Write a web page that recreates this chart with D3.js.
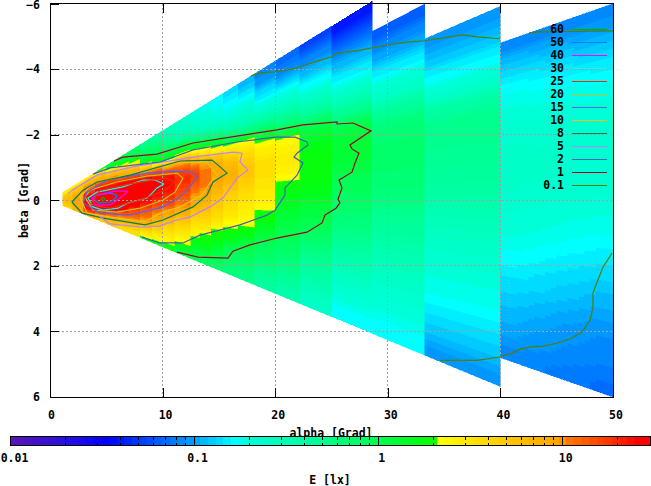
<!DOCTYPE html>
<html><head><meta charset="utf-8">
<script src="https://cdnjs.cloudflare.com/ajax/libs/d3/7.8.5/d3.min.js"></script>
<style>
html,body{margin:0;padding:0;background:#fff}
svg{display:block}
text{font-family:"DejaVu Sans Mono",monospace;font-weight:bold;font-size:11.5px;fill:#000}
</style></head><body><svg id="c" width="651" height="486"></svg>
<script>
// column edges in alpha [Grad]
const tipEdges = [1.15,2,3,4,5,6,7,8];
const midEdges = [8,9.09,10,11.1,12.5,13.3,14.3,15.4,16.7,18.2,20,22.2,25,28.6];
const farEdges = [28.6,33.3,40];
const endEdges = [40,42.5,45,47.5,50];
// beta/alpha limits of each group of columns
const tipMidTop = -0.2125, tipMidBottom = 0.142;
const farTop = [-0.18,-0.148];
const farBottom = [0.142,0.142];
const endTop = -0.12, endBottom = 0.12;
// E [lx] per column, rows top to bottom
const tipE = [
[2.6,2.8,3,3.5,4.5,5.2,5.8,6,6.2,6.2,6,5.8,5.5,5,4.5,4],
[2.5,3.5,5,5.5,6,6.8,8,8.7,9.3,9.5,9.5,9.3,8.8,8.4,7.8,7],
[3,5,6.5,9.5,10.5,14,17.5,24,30,33,33,32,26,20,14,7.5],
[2,5,6.5,8.5,15,21,26,37,55,60,48,42,30,15,10,4.5],
[1.1,2,4.5,7.5,15,20,27,40,50,48,44,35,20,11,8,5],
[1,1.5,3.5,6,10,21,29,40,45,38,31,27,14,9.5,6,4],
[.8,1.1,2,5,8.5,20,30,36,37,33,27,17,13,9,5,3.5]];
const midE = [
[.5,.6,.8,1,1.4,2.2,5,9,17,30,34,35,34,31,24,21,15,13,11,9,6.5,4.5,3,2],
[.4,.5,.65,.85,1,1.5,2.2,9,18,22,30,31,26,23,20,15,12,10,8,6,4.6,3.3,2.5,2],
[.3,.35,.45,.6,.85,1.3,2,6.5,14,22,24,25,24,20,17.5,14,10,8.3,6,4.6,3.5,3,2.4,1.9],
[.25,.28,.32,.4,.9,1.3,3.2,8,12,16,20,19,16,14.5,12,10,8,6,4.5,3.5,2.9,2.3,1.8,1.1],
[.2,.22,.26,.35,.55,1.2,2.3,5.5,10,14,16.5,15,12,10,8.5,7.5,5,4,3.2,2.7,2,1.5,1.2,1],
[.18,.2,.23,.28,.45,.95,2,3.5,8,10,11.5,11,10.5,9,7.5,6,4.7,3.8,3,2.1,1.9,1.5,1.1,.9],
[.16,.18,.2,.24,.35,.7,1.4,2.7,5.5,7.5,9,9.5,7.5,6.5,5,4.5,3.8,3,2,1.9,1.5,1.2,.95,.8],
[.14,.16,.18,.21,.28,.5,.95,2.4,4,5.8,7.3,7.6,6,4.7,4,3.5,3,2.2,1.9,1.6,1.05,.9,.75,.65],
[.11,.14,.18,.22,.28,.38,.8,2.4,3.3,4.5,5,5,4.4,3.7,3.2,2.8,2.4,2.1,1.6,1.2,.95,.8,.65,.55],
[.085,.1,.14,.17,.24,.38,.7,1.5,2.6,3.1,3.6,3.6,3.2,3,2.7,2.1,1.8,1.4,1.1,.9,.75,.62,.5,.42],
[.07,.085,.12,.17,.24,.35,.55,1.02,2.4,2.7,2.9,2.6,2.05,1.7,1.5,1.3,1.15,1.02,.9,.75,.62,.52,.43,.36],
[.055,.08,.105,.145,.19,.27,.42,.85,1.25,1.6,1.8,1.85,1.8,1.6,1.35,1.15,1,.8,.65,.52,.42,.35,.3,.25],
[.04,.055,.085,.115,.15,.21,.31,.5,1,1.25,1.25,1.2,1,.9,.8,.7,.6,.5,.4,.33,.27,.22,.19,.16]];
const farE = [
[.065,.085,.11,.15,.2,.26,.42,.62,.7,.75,.75,.72,.66,.58,.5,.44,.38,.33,.28,.25,.22,.2,.18,.165],
[.09,.115,.14,.18,.23,.36,.5,.52,.5,.47,.43,.39,.35,.31,.27,.24,.22,.2,.185,.17,.15,.13,.115,.095]];
const endE = [
[.085,.115,.14,.165,.185,.2,.22,.23,.24,.24,.24,.23,.215,.205,.195,.18,.165,.15,.135,.125,.115,.105,.095,.085],
[.085,.11,.135,.16,.18,.195,.215,.225,.235,.235,.235,.225,.21,.2,.185,.17,.155,.14,.13,.115,.105,.095,.09,.082],
[.085,.105,.13,.155,.175,.19,.21,.22,.23,.23,.23,.22,.205,.19,.175,.16,.145,.132,.12,.105,.095,.09,.085,.078],
[.085,.1,.125,.15,.17,.185,.205,.215,.225,.225,.225,.215,.2,.185,.17,.152,.138,.125,.11,.098,.09,.085,.08,.072]];
// palette stops: log10(E), colour
const stopLog = [-2,-1.7,-1.47,-1,-.78,-.7,-.3,0,.2,.33,.336,.7,1,1.003,1.3,1.4,1.48];
const stopColor = ["#5a14b4","#2810e0","#0000ff","#00a0ff","#00ffff","#00ffd8","#00ff90","#00ff50","#00ff18","#10ff00","#ffff00","#ffc800","#ffa000","#ff8000","#ff2800","#ff0000","#ff0000"];
// contours [alpha,beta]
const c60 = [[4.71,-.1],[4.88,-.04],[4.71,.02],[4.53,-.04],[4.71,-.1]];
const c50 = [[5.95,-.16],[5.33,-.22],[4.17,-.16],[3.82,-.07],[4.26,.08],[5.33,.05],[5.86,-.07],[5.95,-.16]];
const c40 = [[6.93,-.28],[5.77,-.28],[4.17,-.16],[3.73,-.07],[4,.14],[5.33,.14],[6.22,-.07],[6.93,-.28]];
const c30 = [[10.12,-.5],[9.33,-.62],[8.26,-.62],[6.48,-.41],[4.17,-.25],[3.37,-.07],[3.82,.2],[4.71,.3],[6.04,.24],[6.93,.08],[8.61,-.07],[9.06,-.22],[9.5,-.38],[10.12,-.5]];
const c25 = [[3.55,.14],[4.44,-.31],[7.1,-.5],[10.21,-.68],[11.1,-.56],[10.21,-.31],[7.99,-.01],[5.33,.24],[3.55,.14]];
const c20 = [[3.55,-.31],[5.95,-.56],[8.61,-.74],[11.28,-.83],[11.81,-.68],[11.1,-.25],[10.04,-.01],[7.99,.24],[5.95,.36],[3.82,.3],[3.11,-.1],[3.55,-.31]];
const c15 = [[3.29,-.25],[5.06,-.62],[8.61,-.83],[10.92,-.89],[12.7,-.86],[13.06,-.71],[12.43,-.41],[11.55,-.1],[10.04,.2],[7.1,.45],[4.44,.39],[2.93,.08],[3.29,-.25]];
const c10 = [[2.66,-.1],[3.82,-.53],[5.6,-.68],[8.61,-.93],[10.92,-1.14],[13.94,-1.17],[14.83,-.77],[14.21,-.53],[13.5,-.16],[11.55,.2],[9.77,.39],[8.44,.66],[5.33,.51],[3.29,.39],[2.66,-.1]];
const c8 = [[1.95,.05],[2.93,-.31],[4.17,-.56],[7.1,-.77],[11.55,-1.2],[14.39,-1.23],[15.1,-1.02],[15.72,-.83],[14.48,-.56],[13.94,-.16],[12.7,.2],[10.04,.6],[8.44,.75],[4.71,.54],[2.84,.39],[1.95,.05]];
const c5 = [[1.6,-.19],[1.95,-.31],[4.17,-.77],[7.37,-1.02],[12.7,-1.32],[16.25,-1.47],[17.05,-1.44],[16.87,-1.17],[17.58,-.93],[16.61,-.68],[15.36,-.07],[14.21,.2],[12.43,.51],[11.28,.6],[9.77,.78],[8.26,.82],[5.33,.72],[4.44,.51]];
const c2 = [[3.82,-.8],[5.33,-.99],[9.77,-1.17],[12.7,-1.54],[16.61,-1.78],[19.98,-1.93],[21.76,-1.93],[22.82,-1.78],[22.91,-1.69],[21.94,-1.44],[21.67,-1.32],[22.47,-1.14],[21.94,-.77],[20.87,-.38],[20.87,-.16],[19.98,.3],[19.27,.45],[16.87,.75],[13.32,1.06],[11.81,1.3],[9.77,1.3],[8.17,1.12]];
const c1 = [[5.68,-1.2],[6.48,-1.32],[9.5,-1.41],[12.7,-1.75],[17.14,-1.99],[20.16,-2.15],[22.47,-2.3],[25.49,-2.39],[25.49,-2.33],[26.91,-2.36],[28.51,-2.12],[26.64,-1.69],[26.82,-1.57],[27.44,-1.44],[27.09,-1.14],[26.82,-.86],[25.67,-.62],[25.93,-.38],[25.58,-.04],[25.75,.08],[25.4,.24],[24.42,.45],[24.16,.69],[22.82,.97],[20.16,1.15],[17.76,1.36],[16.25,1.55],[15.81,1.76],[13.14,1.73],[11.28,1.58]];
const c01Top = [[17.85,-3.8],[18.65,-3.89],[19.98,-3.92],[21.58,-4.01],[22.38,-4.1],[23.71,-4.25],[25.04,-4.38],[25.58,-4.5],[27.26,-4.56],[28.6,-4.65],[29.93,-4.74],[31.7,-4.83],[33.3,-4.87],[35.52,-4.99],[36.68,-5.05],[37.92,-4.99],[39.96,-4.93]];
const c01Right = [[42.54,-5.11],[43.43,-5.14],[50,-5.17]];
const c01Bottom = [[34.64,4.88],[37.92,4.88],[39.96,4.78],[41.03,4.66],[41.74,4.54],[42.63,4.48],[43.78,4.45],[45.03,4.36],[46.18,4.23],[47.25,4.02],[47.96,3.65],[48.22,3.29],[48.22,2.83],[48.76,2.34],[49.11,2.04],[49.91,1.61]];
// legend
const legendLabels = ["60","50","40","30","25","20","15","10","8","5","2","1","0.1"];
const legendColors = ["#00b000","#0080ff","#ff00ff","#00ffff","#f03000","#c0c020","#6060e8","#f0c020","#008050","#c080ff","#4060b8","#a00028","#508000"];
const contourSets = [[c60],[c50],[c40],[c30],[c25],[c20],[c15],[c10],[c8],[c5],[c2],[c1],[c01Top,c01Right,c01Bottom]];
// axes
const xTicks = [0,10,20,30,40,50];
const yTicks = [-6,-4,-2,0,2,4,6];
const cbMajor = [0.01,0.1,1,10];
const cbMinor = [.02,.03,.04,.05,.06,.07,.08,.09,.2,.3,.4,.5,.6,.7,.8,.9,2,3,4,5,6,7,8,9,20];
const cbMax = 30, cbSteps = 84, shadesPerRow = 4, shadesPerEndColumn = 5;

const svg = d3.select("#c");
const x = d3.scaleLinear().domain([0,50]).range([50,613]);
const y = d3.scaleLinear().domain([-6,6]).range([3.7,397]);
const pal = d3.scaleLinear().domain(stopLog).range(stopColor).interpolate(d3.interpolateRgb).clamp(true);
const logMin = -2, logMax = Math.log10(cbMax);
const quant = l => {
  const t = (l-logMin)/(logMax-logMin);
  const k = Math.min(cbSteps-1,Math.floor(t*cbSteps));
  return pal(logMin+(k+.5)/cbSteps*(logMax-logMin));
};
const heat = svg.append("g").attr("shape-rendering","crispEdges");
function drawColumn(a0,a1,rTop,rBot,vals){
  const n = vals.length, logs = vals.map(Math.log10);
  const strips = n*shadesPerRow;
  d3.range(strips).forEach(s=>{
    const r0 = rTop+(rBot-rTop)*s/strips, r1 = rTop+(rBot-rTop)*(s+1)/strips;
    const u = Math.max(0,Math.min(n-1,(s+.5)/shadesPerRow-.5)), i = Math.min(n-2,Math.floor(u));
    const c = quant(logs[i]+(logs[i+1]-logs[i])*(u-i));
    heat.append("polygon")
      .attr("points",[[a0,a0*r0],[a1,a1*r0],[a1,a1*r1],[a0,a0*r1]].map(p=>[x(p[0]),y(p[1])].join(",")).join(" "))
      .attr("fill",c).attr("stroke",c).attr("stroke-width",.5);
  });
}
tipE.forEach((v,i)=>drawColumn(tipEdges[i],tipEdges[i+1],tipMidTop,tipMidBottom,v));
midE.forEach((v,i)=>drawColumn(midEdges[i],midEdges[i+1],tipMidTop,tipMidBottom,v));
farE.forEach((v,i)=>drawColumn(farEdges[i],farEdges[i+1],farTop[i],farBottom[i],v));
// the last block shows no column breaks, so its columns are shaded into one another
const endN = endE.length, endSub = endN*shadesPerEndColumn, endStep = (endEdges[endN]-endEdges[0])/endSub;
d3.range(endSub).forEach(s=>{
  const u = Math.max(0,Math.min(endN-1,(s+.5)/shadesPerEndColumn-.5)), i = Math.min(endN-2,Math.floor(u));
  const vals = endE[i].map((e,j)=>Math.pow(10,Math.log10(e)+(Math.log10(endE[i+1][j])-Math.log10(e))*(u-i)));
  drawColumn(endEdges[0]+s*endStep,endEdges[0]+(s+1)*endStep,endTop,endBottom,vals);
});

// grid
const grid = svg.append("g").attr("shape-rendering","crispEdges").attr("stroke","#a0a0a0").attr("stroke-dasharray","2,2");
grid.selectAll("line.v").data(xTicks.slice(1,-1)).join("line").attr("x1",d=>x(d)).attr("x2",d=>x(d)).attr("y1",y(-6)).attr("y2",y(6));
grid.selectAll("line.h").data(yTicks.slice(1,-1)).join("line").attr("x1",x(0)).attr("x2",x(50)).attr("y1",d=>y(d)).attr("y2",d=>y(d));

// contours
const line = d3.line().x(d=>x(d[0])).y(d=>y(d[1]));
contourSets.forEach((set,i)=>set.forEach(pts=>{
  svg.append("path").attr("d",line(pts)).attr("fill","none").attr("stroke",legendColors[i]).attr("stroke-width",1.2);
}));

// axes
const axB = svg.append("g").attr("transform",`translate(0,${y(6)})`).call(d3.axisBottom(x).tickValues(xTicks).tickSize(-9).tickPadding(14));
const axT = svg.append("g").attr("transform",`translate(0,${y(-6)})`).call(d3.axisTop(x).tickValues(xTicks).tickSize(-9).tickFormat(""));
const axL = svg.append("g").attr("transform",`translate(${x(0)},0)`).call(d3.axisLeft(y).tickValues(yTicks).tickSize(-9).tickPadding(10));
[axB,axT,axL].forEach(g=>{
  g.attr("shape-rendering","crispEdges");
  g.select(".domain").remove();
  g.selectAll("line").attr("stroke","#000");
  g.selectAll("text").attr("fill","#000").style("font-family",'"DejaVu Sans Mono",monospace').style("font-size","11.5px").style("font-weight","bold");
});
axB.selectAll("text").attr("dx",d=>d===0?1:2.5);
axL.selectAll(".tick").filter(d=>d===-6).select("text").attr("dy","0.45em");
svg.append("rect").attr("x",x(0)).attr("y",y(-6)).attr("width",x(50)-x(0)).attr("height",y(6)-y(-6))
  .attr("fill","none").attr("stroke","#000").attr("shape-rendering","crispEdges");

svg.append("text").attr("x",331).attr("y",437).attr("text-anchor","middle").text("alpha [Grad]");
svg.append("text").attr("transform","translate(28,200) rotate(-90)").attr("text-anchor","middle").text("beta [Grad]");

// legend
legendLabels.forEach((t,i)=>{
  const ly = Math.round(28.7+13*i);
  svg.append("text").attr("x",564).attr("y",ly+4).attr("text-anchor","end").text(t);
  svg.append("line").attr("x1",572).attr("x2",607).attr("y1",ly+.5).attr("y2",ly+.5).attr("stroke",legendColors[i]).attr("shape-rendering","crispEdges");
});

// colour bar
const cb = d3.scaleLog().domain([0.01,cbMax]).range([10,650]);
const cbY0 = 436.5, cbH = 9;
const cbg = svg.append("g").attr("shape-rendering","crispEdges");
d3.range(cbSteps).forEach(k=>{
  const l = logMin+(k+.5)/cbSteps*(logMax-logMin);
  cbg.append("rect").attr("x",cb(10**(logMin+k/cbSteps*(logMax-logMin)))).attr("y",cbY0)
    .attr("width",640/cbSteps+.5).attr("height",cbH).attr("fill",pal(l));
});
const axC = svg.append("g").attr("transform",`translate(0,${cbY0+cbH})`).call(d3.axisBottom(cb).tickValues(cbMajor).tickFormat(d3.format("~g")).tickSize(-cbH).tickPadding(8));
axC.attr("shape-rendering","crispEdges");
axC.select(".domain").remove();
axC.selectAll("line").attr("stroke","#000");
axC.selectAll("text").attr("fill","#000").attr("dx",3).style("font-family",'"DejaVu Sans Mono",monospace').style("font-size","11.5px").style("font-weight","bold");
axC.selectAll(".tick").filter(d=>d===0.01).select("text").attr("dx",4);
cbMinor.forEach(v=>{
  cbg.append("line").attr("x1",cb(v)).attr("x2",cb(v)).attr("y1",cbY0).attr("y2",cbY0+3).attr("stroke","#000");
  cbg.append("line").attr("x1",cb(v)).attr("x2",cb(v)).attr("y1",cbY0+cbH-3).attr("y2",cbY0+cbH).attr("stroke","#000");
});
svg.append("rect").attr("x",10).attr("y",cbY0).attr("width",640).attr("height",cbH).attr("fill","none").attr("stroke","#000").attr("shape-rendering","crispEdges");
svg.append("text").attr("x",330).attr("y",484).attr("text-anchor","middle").text("E [lx]");
</script></body></html>
